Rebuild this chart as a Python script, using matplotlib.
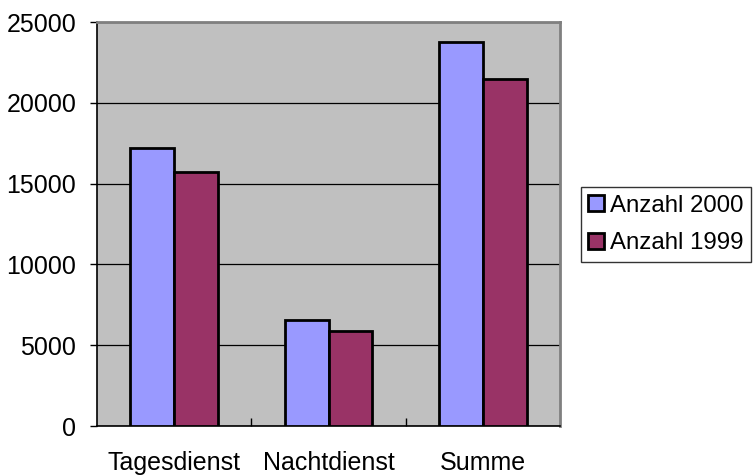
import matplotlib.pyplot as plt
import numpy as np

plt.rcParams["font.family"] = ["Liberation Sans", "DejaVu Sans"]

categories = ["Tagesdienst", "Nachtdienst", "Summe"]
anzahl_2000 = [17200, 6550, 23750]
anzahl_1999 = [15700, 5850, 21500]
series_names = ["Anzahl 2000", "Anzahl 1999"]
y_ticks = [0, 5000, 10000, 15000, 20000, 25000]

fig = plt.figure(figsize=(7.53, 4.76), dpi=100)
ax = fig.add_axes([97 / 753, 50 / 476, 463 / 753, 404 / 476])
ax.set_facecolor("#C0C0C0")

x = np.arange(len(categories))
w = 0.285
ax.bar(x - w / 2, anzahl_2000, w, color="#9999FF", edgecolor="black",
       linewidth=2, label=series_names[0], zorder=3)
ax.bar(x + w / 2, anzahl_1999, w, color="#993366", edgecolor="black",
       linewidth=2, label=series_names[1], zorder=3)

ax.set_xlim(-0.5, len(categories) - 0.5)
ax.set_ylim(0, 25000)
ax.set_yticks(y_ticks)
ax.yaxis.grid(True, color="black", linewidth=0.9, zorder=1)
ax.set_axisbelow(True)

ax.set_xticks(x)
ax.set_xticklabels(categories)
ax.set_xticks([0.5, 1.5], minor=True)
ax.tick_params(axis="x", which="major", length=0, pad=18, labelsize=18)
ax.tick_params(axis="x", which="minor", direction="in", length=6, width=1)
ax.tick_params(axis="y", direction="out", length=5, width=1, pad=10,
               labelsize=18)

for side in ["top", "right"]:
    ax.spines[side].set_color("#808080")
    ax.spines[side].set_linewidth(2)
for side in ["left", "bottom"]:
    ax.spines[side].set_color("black")
    ax.spines[side].set_linewidth(1.2)

leg = fig.legend(loc="center left", bbox_to_anchor=(581 / 753, 1 - 224.5 / 476),
                 fontsize=17.3, frameon=True, fancybox=False, edgecolor="black",
                 handlelength=0.65, handleheight=0.65, handletextpad=0.25,
                 labelspacing=0.65, borderpad=0.3, borderaxespad=0)
leg.get_frame().set_linewidth(1)

plt.savefig("out.png", dpi=100)
